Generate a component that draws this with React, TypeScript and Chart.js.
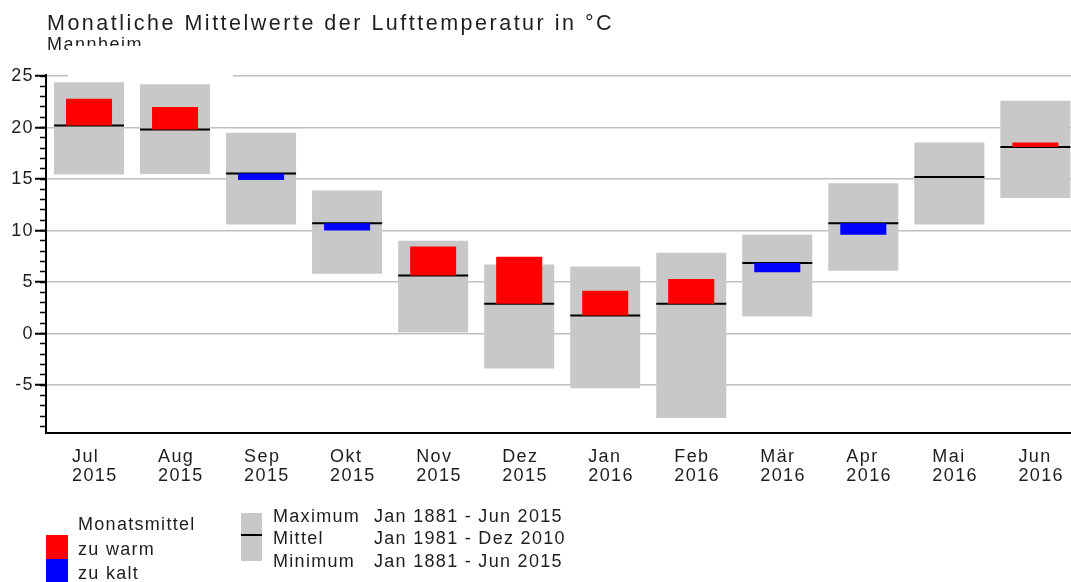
import React, { useEffect, useRef } from 'react';
import { Chart, registerables } from 'chart.js';

Chart.register(...registerables);

// ---------------- data ----------------
const months = ['Jul', 'Aug', 'Sep', 'Okt', 'Nov', 'Dez', 'Jan', 'Feb', 'Mär', 'Apr', 'Mai', 'Jun'];
const years = ['2015', '2015', '2015', '2015', '2015', '2015', '2016', '2016', '2016', '2016', '2016', '2016'];
// Maximum Jan 1881 - Jun 2015
const maxTemp = [24.4, 24.2, 19.5, 13.9, 9.0, 6.7, 6.5, 7.85, 9.6, 14.6, 18.55, 22.6];
// Minimum Jan 1881 - Jun 2015
const minTemp = [15.45, 15.5, 10.6, 5.8, 0.1, -3.4, -5.3, -8.2, 1.65, 6.1, 10.6, 13.15];
// Mittel Jan 1981 - Dez 2010
const meanTemp = [20.2, 19.8, 15.55, 10.7, 5.65, 2.9, 1.75, 2.9, 6.85, 10.7, 15.2, 18.1];
// Monatsmittel
const monthTemp = [22.8, 22.0, 14.9, 10.0, 8.45, 7.45, 4.15, 5.3, 5.95, 9.6, 15.2, 18.55];

const yMin = -9.65;
const yMax = 25.1;
const yMajorStep = 5;
const yMinorStep = 1;

const titleText = 'Monatliche Mittelwerte der Lufttemperatur in °C';
const subtitleText = 'Mannheim';
const legendAnomaly = ['Monatsmittel', 'zu warm', 'zu kalt'];
const legendRange = ['Maximum', 'Mittel', 'Minimum'];
const legendPeriods = ['Jan 1881 - Jun 2015', 'Jan 1981 - Dez 2010', 'Jan 1881 - Jun 2015'];

// ---------------- styles ----------------
const FONT = '"Liberation Sans", Arial, Helvetica, sans-serif';
const TEXT = '#1e1e1e';
const WARM = '#ff0000';
const COLD = '#0000ff';
const GRAY = '#c8c8c8';
const GRID = '#c0c0c0';

const decorPlugin = {
  id: 'decor',
  beforeUpdate(chart: any) {
    chart.ctx.letterSpacing = '1.4px';
  },
  beforeDraw(chart: any) {
    chart.ctx.letterSpacing = '1.4px';
  },
  afterDraw(chart: any) {
    const ctx = chart.ctx as CanvasRenderingContext2D & { letterSpacing: string };
    ctx.save();
    ctx.textAlign = 'left';
    ctx.textBaseline = 'alphabetic';

    // subtitle (partly hidden as in the original)
    ctx.fillStyle = TEXT;
    ctx.font = `18px ${FONT}`;
    ctx.letterSpacing = '1.5px';
    ctx.fillText(subtitleText, 47, 50);
    ctx.fillStyle = '#ffffff';
    ctx.fillRect(68, 46, 165, 33);

    // title
    ctx.fillStyle = TEXT;
    ctx.font = `21.5px ${FONT}`;
    ctx.letterSpacing = '2.5px';
    ctx.fillText(titleText, 47, 30);

    // legend: anomaly
    ctx.font = `18px ${FONT}`;
    ctx.letterSpacing = '1.3px';
    ctx.fillStyle = WARM;
    ctx.fillRect(46, 535, 22, 24);
    ctx.fillStyle = COLD;
    ctx.fillRect(46, 559, 22, 23);
    ctx.fillStyle = TEXT;
    const leftBase = [530, 555, 579];
    legendAnomaly.forEach((t, i) => ctx.fillText(t, 78, leftBase[i]));

    // legend: range
    ctx.fillStyle = GRAY;
    ctx.fillRect(241, 513, 21, 48);
    ctx.fillStyle = '#000';
    ctx.fillRect(241, 534, 21, 2);
    ctx.fillStyle = TEXT;
    const rightBase = [521.5, 543.5, 566.5];
    legendRange.forEach((t, i) => ctx.fillText(t, 273, rightBase[i]));
    legendPeriods.forEach((t, i) => ctx.fillText(t, 374, rightBase[i]));
    ctx.restore();
  },
};

export default function App() {
  const ref = useRef<HTMLCanvasElement>(null);

  useEffect(() => {
    if (!ref.current) return;
    const config: any = {
      type: 'bar',
      data: {
        labels: months.map((m, i) => [m, years[i]]),
        datasets: [
          {
            type: 'bar',
            label: 'Maximum / Minimum',
            data: minTemp.map((v, i) => [v, maxTemp[i]]),
            backgroundColor: GRAY,
            borderWidth: 0,
            grouped: false,
            barPercentage: 0.814,
            categoryPercentage: 1,
            order: 3,
            yAxisID: 'y',
          },
          {
            type: 'line',
            label: 'Mittel',
            data: meanTemp,
            showLine: false,
            pointStyle: 'line',
            pointRadius: 35,
            pointHoverRadius: 35,
            pointBorderWidth: 2,
            pointBorderColor: '#000',
            pointBackgroundColor: '#000',
            borderColor: '#000',
            order: 2,
            yAxisID: 'y',
          },
          {
            type: 'bar',
            label: 'Monatsmittel',
            data: monthTemp.map((v, i) => [meanTemp[i], v]),
            backgroundColor: monthTemp.map((v, i) => (v >= meanTemp[i] ? WARM : COLD)),
            borderWidth: 0,
            grouped: false,
            barPercentage: 0.535,
            categoryPercentage: 1,
            order: 1,
            yAxisID: 'y',
          },
        ],
      },
      options: {
        responsive: false,
        animation: false,
        events: [],
        layout: { autoPadding: false, padding: { top: 75, left: 0, right: 1.6, bottom: 99 } },
        plugins: {
          legend: { display: false },
          title: { display: false },
          tooltip: { enabled: false },
        },
        scales: {
          x: {
            type: 'category',
            offset: true,
            position: 'bottom',
            grid: { display: true, drawOnChartArea: false, drawTicks: false },
            border: { display: true, color: '#000', width: 2 },
            ticks: {
              autoSkip: false,
              maxRotation: 0,
              minRotation: 0,
              align: 'start',
              labelOffset: -17,
              padding: 15,
              color: TEXT,
              font: { family: FONT, size: 18, lineHeight: 1.03 },
            },
            afterFit: (s: any) => {
              s.height = 50;
              s.paddingLeft = 0;
              s.paddingRight = 0;
            },
          },
          y: {
            type: 'linear',
            position: 'left',
            weight: 1,
            min: yMin,
            max: yMax,
            ticks: {
              stepSize: yMajorStep,
              includeBounds: false,
              padding: 1,
              color: TEXT,
              font: { family: FONT, size: 18 },
            },
            grid: {
              color: GRID,
              lineWidth: 1.5,
              tickColor: '#000',
              tickWidth: 2,
              tickLength: 11,
              drawTicks: true,
            },
            border: { display: true, color: '#000', width: 2 },
            afterFit: (s: any) => {
              s.width = 46;
              s.paddingTop = 0;
              s.paddingBottom = 0;
            },
          },
          yMinor: {
            type: 'linear',
            position: 'left',
            weight: 0,
            min: yMin,
            max: yMax,
            ticks: { stepSize: yMinorStep, includeBounds: false, display: false },
            grid: {
              drawOnChartArea: false,
              drawTicks: true,
              tickColor: '#000',
              tickWidth: 1.5,
              tickLength: 6,
            },
            border: { display: false },
            afterFit: (s: any) => {
              s.width = 0;
              s.paddingTop = 0;
              s.paddingBottom = 0;
            },
          },
        },
      },
      plugins: [decorPlugin],
    };
    const chart = new Chart(ref.current, config);
    return () => chart.destroy();
  }, []);

  return (
    <div
      style={{
        position: 'absolute',
        left: 0,
        top: 0,
        width: 1071,
        height: 582,
        overflow: 'hidden',
        background: '#fff',
      }}
    >
      <canvas ref={ref} width={1080} height={582} style={{ display: 'block', width: 1080, height: 582 }} />
    </div>
  );
}
